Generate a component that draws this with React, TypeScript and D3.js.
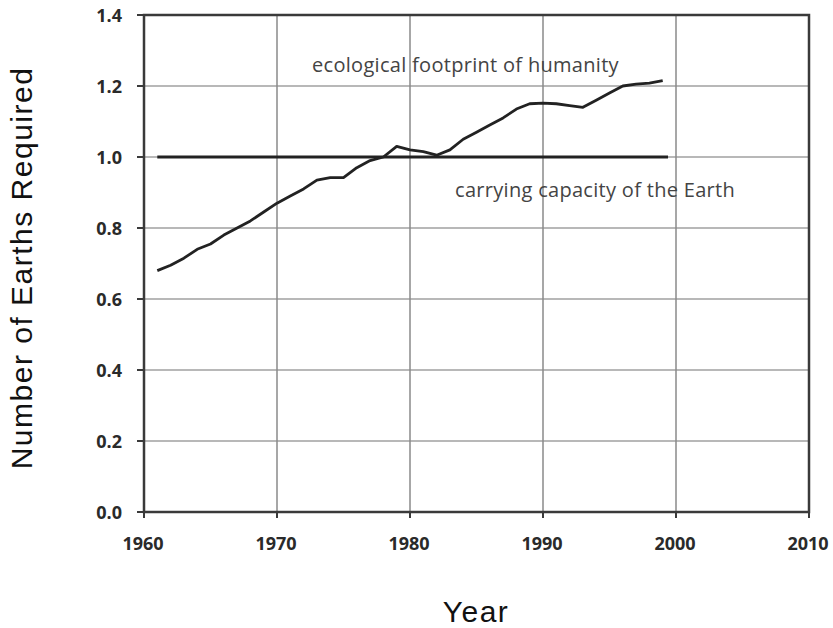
import React from "react";
import * as d3 from "d3";

const years = [1961,1962,1963,1964,1965,1966,1967,1968,1969,1970,1971,1972,1973,1974,1975,1976,1977,1978,1979,1980,1981,1982,1983,1984,1985,1986,1987,1988,1989,1990,1991,1992,1993,1994,1995,1996,1997,1998,1999];
const footprint = [0.68,0.695,0.715,0.74,0.755,0.78,0.80,0.82,0.845,0.87,0.89,0.91,0.935,0.942,0.942,0.97,0.99,1.0,1.03,1.02,1.015,1.005,1.02,1.05,1.07,1.09,1.11,1.135,1.15,1.152,1.15,1.145,1.14,1.16,1.18,1.2,1.205,1.208,1.215];
const capacityYears = [1961, 1999.4];
const capacityValue = 1.0;
const xTicks = [1960,1970,1980,1990,2000,2010];
const yTicks = [0,0.2,0.4,0.6,0.8,1.0,1.2,1.4];
const xTitle = "Year";
const yTitle = "Number of Earths Required";
const footprintLabel = "ecological footprint of humanity";
const capacityLabel = "carrying capacity of the Earth";

export default function App() {
  const W = 833, H = 628;
  const left = 144, right = 809, top = 15, bottom = 512;
  const x = d3.scaleLinear().domain([1960, 2010]).range([left, right]);
  const y = d3.scaleLinear().domain([0, 1.4]).range([bottom, top]);
  const line = d3.line<number>().x((_, i) => x(years[i])).y(d => y(d));
  const tickFont = "'Open Sans', sans-serif";
  const titleFont = "'Liberation Sans', Arial, sans-serif";
  return (
    <svg width={W} height={H} style={{ position: "absolute", left: 0, top: 0, background: "#fff" }}>
      {yTicks.filter(t => t > 0 && t < 1.4).map(t => (
        <line key={"h" + t} x1={left} x2={right} y1={y(t)} y2={y(t)} stroke="#b8b8b8" strokeWidth={2} />
      ))}
      {xTicks.filter(t => t > 1960 && t < 2010).map(t => (
        <line key={"v" + t} x1={x(t)} x2={x(t)} y1={top} y2={bottom} stroke="#8a8a8a" strokeWidth={1.5} />
      ))}
      <rect x={left} y={top} width={right - left} height={bottom - top} fill="none" stroke="#3a3a3a" strokeWidth={2.5} />
      {yTicks.map(t => (
        <line key={"yt" + t} x1={left - 7} x2={left} y1={y(t)} y2={y(t)} stroke="#3a3a3a" strokeWidth={2} />
      ))}
      {xTicks.map(t => (
        <line key={"xt" + t} x1={x(t)} x2={x(t)} y1={bottom} y2={bottom + 6} stroke="#3a3a3a" strokeWidth={2} />
      ))}
      {yTicks.map(t => (
        <text key={"yl" + t} x={122} y={y(t) + 7} textAnchor="end" fontFamily={tickFont} fontSize={18} fontWeight={700} fill="#2a2a2a">
          {d3.format(".1f")(t)}
        </text>
      ))}
      {xTicks.map(t => (
        <text key={"xl" + t} x={x(t) - 1} y={550} textAnchor="middle" fontFamily={tickFont} fontSize={18} fontWeight={700} fill="#2a2a2a">
          {t}
        </text>
      ))}
      <line x1={x(capacityYears[0])} x2={x(capacityYears[1])} y1={y(capacityValue)} y2={y(capacityValue)} stroke="#222" strokeWidth={3} />
      <path d={line(footprint) || ""} fill="none" stroke="#222" strokeWidth={2.8} strokeLinejoin="round" />
      <text x={312} y={72} fontFamily={tickFont} fontSize={20} letterSpacing={0.3} fill="#444">{footprintLabel}</text>
      <text x={455} y={197} fontFamily={tickFont} fontSize={20} letterSpacing={0.3} fill="#444">{capacityLabel}</text>
      <text x={476} y={622} textAnchor="middle" fontFamily={titleFont} fontSize={30} letterSpacing={1.5} fill="#111">{xTitle}</text>
      <text transform={`translate(32,268) rotate(-90)`} textAnchor="middle" fontFamily={titleFont} fontSize={30} letterSpacing={1.5} fill="#111">{yTitle}</text>
    </svg>
  );
}
